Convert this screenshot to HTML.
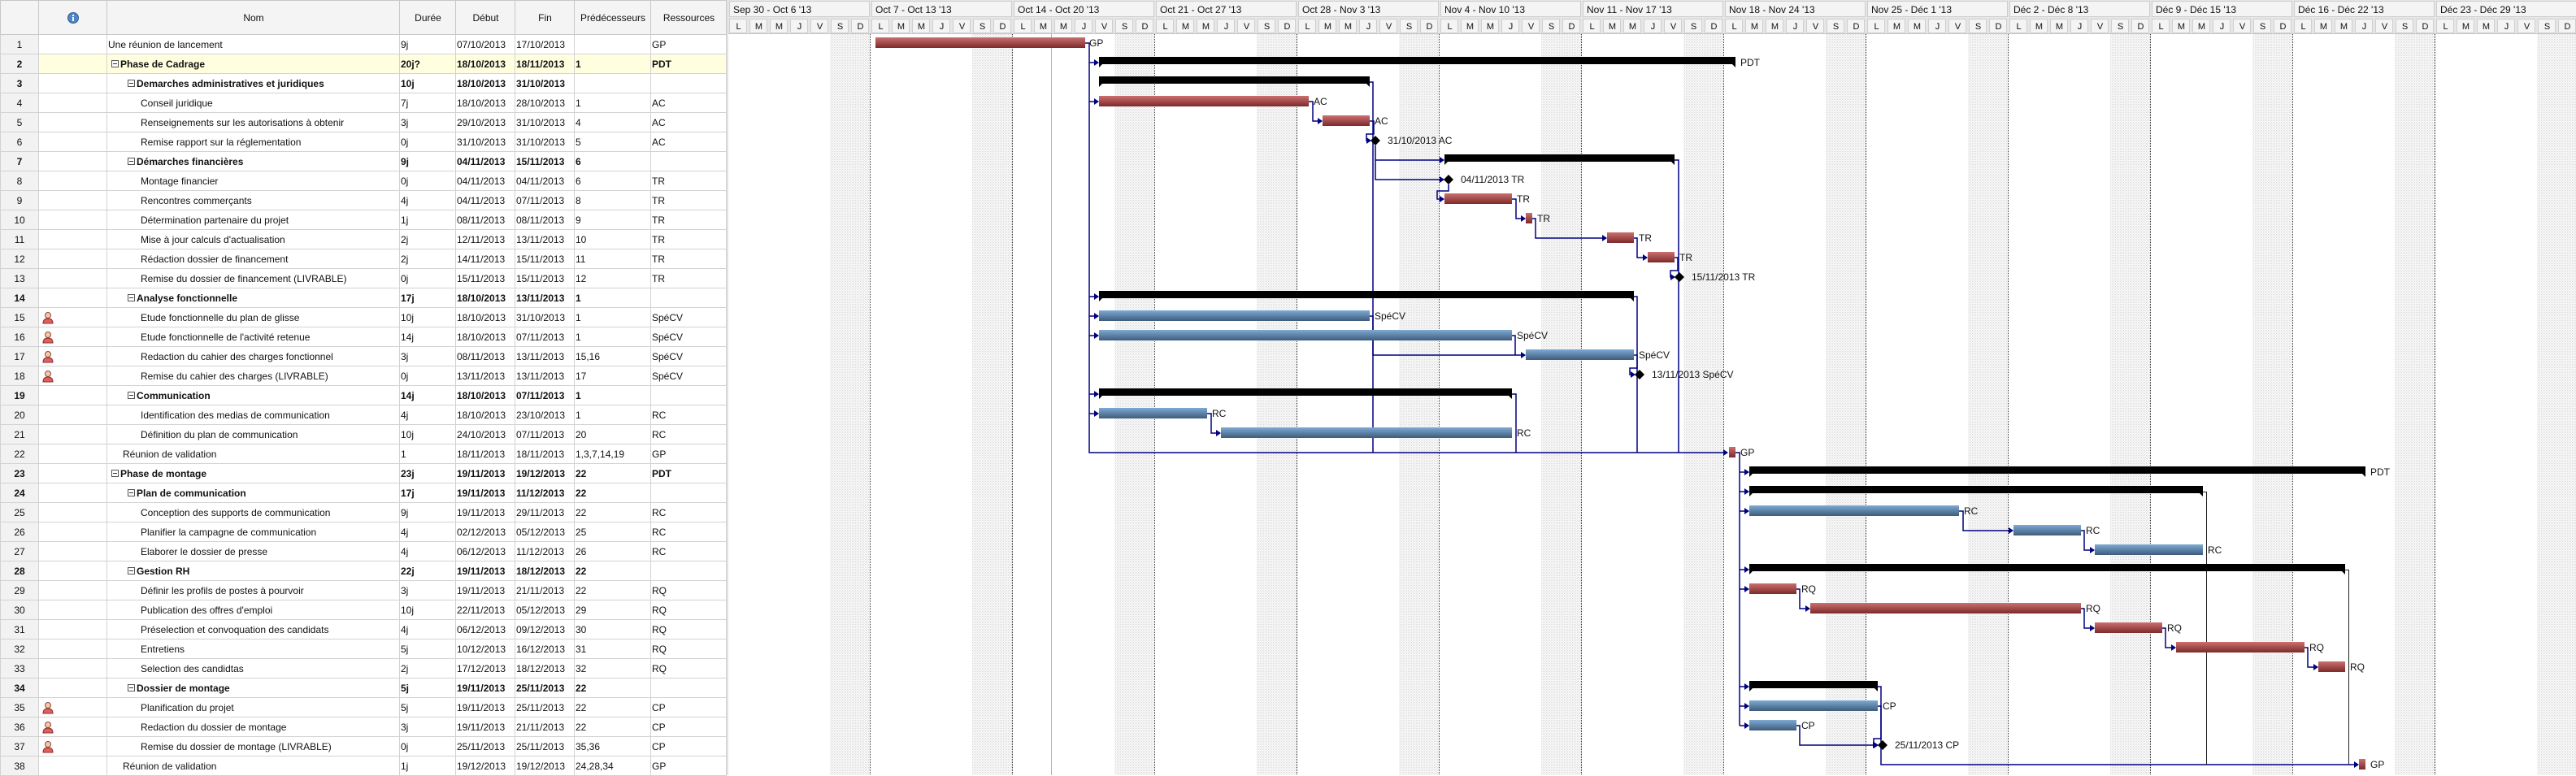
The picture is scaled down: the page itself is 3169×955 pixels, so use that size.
<!DOCTYPE html>
<html><head><meta charset="utf-8">
<style>
html,body{margin:0;padding:0;width:3169px;height:954px;overflow:hidden;background:#fff;font-family:"Liberation Sans",Arial,sans-serif;}
#tbl{position:absolute;left:0;top:0;border-collapse:collapse;table-layout:fixed;width:893px;font-size:12px;color:#111;background:#fff;z-index:2}
#tbl td,#tbl th{border:1px solid #d2d2d2;padding:0 0 0 1px;height:23px;white-space:nowrap;overflow:hidden;text-align:left}
#tbl th{height:41px;background:#f4f4f4;font-weight:normal;text-align:center;border-color:#c8c8c8}
#tbl td.n{background:#f2f2f2;text-align:center;padding:0}
#tbl tr.b td{font-weight:bold}
#tbl tr.sel td{background:#ffffe0}
#tbl tr.sel td.n{background:#f2f2f2}
.bx{display:inline-block;width:7px;height:7px;border:1px solid #555;position:relative;margin-right:2px;vertical-align:0px;background:#fff}
.bx:after{content:"";position:absolute;left:1px;top:3px;width:5px;height:1px;background:#333}
.l1{padding-left:5px!important}.l1t{padding-left:19px!important}.l2{padding-left:25px!important}.l3{padding-left:41px!important}
svg{position:absolute;left:0;top:0}
</style></head><body>
<table id="tbl">
<colgroup><col style="width:47px"><col style="width:84px"><col style="width:360px"><col style="width:69px"><col style="width:73px"><col style="width:73px"><col style="width:94px"><col style="width:93px"></colgroup>
<tr><th></th><th><svg width="14" height="14" style="position:static;vertical-align:middle"><circle cx="7" cy="7" r="6.5" fill="#4f86c6" stroke="#2d5f9e"/><rect x="6" y="6" width="2" height="5" fill="#fff"/><rect x="6" y="3" width="2" height="2" fill="#fff"/></svg></th><th>Nom</th><th>Durée</th><th>Début</th><th>Fin</th><th>Prédécesseurs</th><th>Ressources</th></tr>
<tr><td class="n">1</td><td></td><td>Une réunion de lancement</td><td>9j</td><td>07/10/2013</td><td>17/10/2013</td><td></td><td>GP</td></tr>
<tr class="b sel"><td class="n">2</td><td></td><td class="l1"><span class="bx"></span>Phase de Cadrage</td><td>20j?</td><td>18/10/2013</td><td>18/11/2013</td><td>1</td><td>PDT</td></tr>
<tr class="b"><td class="n">3</td><td></td><td class="l2"><span class="bx"></span>Demarches administratives et juridiques</td><td>10j</td><td>18/10/2013</td><td>31/10/2013</td><td></td><td></td></tr>
<tr><td class="n">4</td><td></td><td class="l3">Conseil juridique</td><td>7j</td><td>18/10/2013</td><td>28/10/2013</td><td>1</td><td>AC</td></tr>
<tr><td class="n">5</td><td></td><td class="l3">Renseignements sur les autorisations à obtenir</td><td>3j</td><td>29/10/2013</td><td>31/10/2013</td><td>4</td><td>AC</td></tr>
<tr><td class="n">6</td><td></td><td class="l3">Remise rapport sur la réglementation</td><td>0j</td><td>31/10/2013</td><td>31/10/2013</td><td>5</td><td>AC</td></tr>
<tr class="b"><td class="n">7</td><td></td><td class="l2"><span class="bx"></span>Démarches financières</td><td>9j</td><td>04/11/2013</td><td>15/11/2013</td><td>6</td><td></td></tr>
<tr><td class="n">8</td><td></td><td class="l3">Montage financier</td><td>0j</td><td>04/11/2013</td><td>04/11/2013</td><td>6</td><td>TR</td></tr>
<tr><td class="n">9</td><td></td><td class="l3">Rencontres commerçants</td><td>4j</td><td>04/11/2013</td><td>07/11/2013</td><td>8</td><td>TR</td></tr>
<tr><td class="n">10</td><td></td><td class="l3">Détermination partenaire du projet</td><td>1j</td><td>08/11/2013</td><td>08/11/2013</td><td>9</td><td>TR</td></tr>
<tr><td class="n">11</td><td></td><td class="l3">Mise à jour calculs d'actualisation</td><td>2j</td><td>12/11/2013</td><td>13/11/2013</td><td>10</td><td>TR</td></tr>
<tr><td class="n">12</td><td></td><td class="l3">Rédaction dossier de financement</td><td>2j</td><td>14/11/2013</td><td>15/11/2013</td><td>11</td><td>TR</td></tr>
<tr><td class="n">13</td><td></td><td class="l3">Remise du dossier de financement (LIVRABLE)</td><td>0j</td><td>15/11/2013</td><td>15/11/2013</td><td>12</td><td>TR</td></tr>
<tr class="b"><td class="n">14</td><td></td><td class="l2"><span class="bx"></span>Analyse fonctionnelle</td><td>17j</td><td>18/10/2013</td><td>13/11/2013</td><td>1</td><td></td></tr>
<tr><td class="n">15</td><td><svg width="14" height="16" style="position:static;vertical-align:middle;margin-left:3px"><circle cx="7" cy="5" r="3.5" fill="#f3c9a8" stroke="#8a4a3a"/><path d="M1 15 Q1 9 7 9 Q13 9 13 15 Z" fill="#e0605c" stroke="#8a3030"/></svg></td><td class="l3">Etude fonctionnelle du plan de glisse</td><td>10j</td><td>18/10/2013</td><td>31/10/2013</td><td>1</td><td>SpéCV</td></tr>
<tr><td class="n">16</td><td><svg width="14" height="16" style="position:static;vertical-align:middle;margin-left:3px"><circle cx="7" cy="5" r="3.5" fill="#f3c9a8" stroke="#8a4a3a"/><path d="M1 15 Q1 9 7 9 Q13 9 13 15 Z" fill="#e0605c" stroke="#8a3030"/></svg></td><td class="l3">Etude fonctionnelle de l'activité retenue</td><td>14j</td><td>18/10/2013</td><td>07/11/2013</td><td>1</td><td>SpéCV</td></tr>
<tr><td class="n">17</td><td><svg width="14" height="16" style="position:static;vertical-align:middle;margin-left:3px"><circle cx="7" cy="5" r="3.5" fill="#f3c9a8" stroke="#8a4a3a"/><path d="M1 15 Q1 9 7 9 Q13 9 13 15 Z" fill="#e0605c" stroke="#8a3030"/></svg></td><td class="l3">Redaction du cahier des charges fonctionnel</td><td>3j</td><td>08/11/2013</td><td>13/11/2013</td><td>15,16</td><td>SpéCV</td></tr>
<tr><td class="n">18</td><td><svg width="14" height="16" style="position:static;vertical-align:middle;margin-left:3px"><circle cx="7" cy="5" r="3.5" fill="#f3c9a8" stroke="#8a4a3a"/><path d="M1 15 Q1 9 7 9 Q13 9 13 15 Z" fill="#e0605c" stroke="#8a3030"/></svg></td><td class="l3">Remise du cahier des charges (LIVRABLE)</td><td>0j</td><td>13/11/2013</td><td>13/11/2013</td><td>17</td><td>SpéCV</td></tr>
<tr class="b"><td class="n">19</td><td></td><td class="l2"><span class="bx"></span>Communication</td><td>14j</td><td>18/10/2013</td><td>07/11/2013</td><td>1</td><td></td></tr>
<tr><td class="n">20</td><td></td><td class="l3">Identification des medias de communication</td><td>4j</td><td>18/10/2013</td><td>23/10/2013</td><td>1</td><td>RC</td></tr>
<tr><td class="n">21</td><td></td><td class="l3">Définition du plan de communication</td><td>10j</td><td>24/10/2013</td><td>07/11/2013</td><td>20</td><td>RC</td></tr>
<tr><td class="n">22</td><td></td><td class="l1t">Réunion de validation</td><td>1</td><td>18/11/2013</td><td>18/11/2013</td><td>1,3,7,14,19</td><td>GP</td></tr>
<tr class="b"><td class="n">23</td><td></td><td class="l1"><span class="bx"></span>Phase de montage</td><td>23j</td><td>19/11/2013</td><td>19/12/2013</td><td>22</td><td>PDT</td></tr>
<tr class="b"><td class="n">24</td><td></td><td class="l2"><span class="bx"></span>Plan de communication</td><td>17j</td><td>19/11/2013</td><td>11/12/2013</td><td>22</td><td></td></tr>
<tr><td class="n">25</td><td></td><td class="l3">Conception des supports de communication</td><td>9j</td><td>19/11/2013</td><td>29/11/2013</td><td>22</td><td>RC</td></tr>
<tr><td class="n">26</td><td></td><td class="l3">Planifier la campagne de communication</td><td>4j</td><td>02/12/2013</td><td>05/12/2013</td><td>25</td><td>RC</td></tr>
<tr><td class="n">27</td><td></td><td class="l3">Elaborer le dossier de presse</td><td>4j</td><td>06/12/2013</td><td>11/12/2013</td><td>26</td><td>RC</td></tr>
<tr class="b"><td class="n">28</td><td></td><td class="l2"><span class="bx"></span>Gestion RH</td><td>22j</td><td>19/11/2013</td><td>18/12/2013</td><td>22</td><td></td></tr>
<tr><td class="n">29</td><td></td><td class="l3">Définir les profils de postes à pourvoir</td><td>3j</td><td>19/11/2013</td><td>21/11/2013</td><td>22</td><td>RQ</td></tr>
<tr><td class="n">30</td><td></td><td class="l3">Publication des offres d'emploi</td><td>10j</td><td>22/11/2013</td><td>05/12/2013</td><td>29</td><td>RQ</td></tr>
<tr><td class="n">31</td><td></td><td class="l3">Préselection et convoquation des candidats</td><td>4j</td><td>06/12/2013</td><td>09/12/2013</td><td>30</td><td>RQ</td></tr>
<tr><td class="n">32</td><td></td><td class="l3">Entretiens</td><td>5j</td><td>10/12/2013</td><td>16/12/2013</td><td>31</td><td>RQ</td></tr>
<tr><td class="n">33</td><td></td><td class="l3">Selection des candidtas</td><td>2j</td><td>17/12/2013</td><td>18/12/2013</td><td>32</td><td>RQ</td></tr>
<tr class="b"><td class="n">34</td><td></td><td class="l2"><span class="bx"></span>Dossier de montage</td><td>5j</td><td>19/11/2013</td><td>25/11/2013</td><td>22</td><td></td></tr>
<tr><td class="n">35</td><td><svg width="14" height="16" style="position:static;vertical-align:middle;margin-left:3px"><circle cx="7" cy="5" r="3.5" fill="#f3c9a8" stroke="#8a4a3a"/><path d="M1 15 Q1 9 7 9 Q13 9 13 15 Z" fill="#e0605c" stroke="#8a3030"/></svg></td><td class="l3">Planification du projet</td><td>5j</td><td>19/11/2013</td><td>25/11/2013</td><td>22</td><td>CP</td></tr>
<tr><td class="n">36</td><td><svg width="14" height="16" style="position:static;vertical-align:middle;margin-left:3px"><circle cx="7" cy="5" r="3.5" fill="#f3c9a8" stroke="#8a4a3a"/><path d="M1 15 Q1 9 7 9 Q13 9 13 15 Z" fill="#e0605c" stroke="#8a3030"/></svg></td><td class="l3">Redaction du dossier de montage</td><td>3j</td><td>19/11/2013</td><td>21/11/2013</td><td>22</td><td>CP</td></tr>
<tr><td class="n">37</td><td><svg width="14" height="16" style="position:static;vertical-align:middle;margin-left:3px"><circle cx="7" cy="5" r="3.5" fill="#f3c9a8" stroke="#8a4a3a"/><path d="M1 15 Q1 9 7 9 Q13 9 13 15 Z" fill="#e0605c" stroke="#8a3030"/></svg></td><td class="l3">Remise du dossier de montage (LIVRABLE)</td><td>0j</td><td>25/11/2013</td><td>25/11/2013</td><td>35,36</td><td>CP</td></tr>
<tr><td class="n">38</td><td></td><td class="l1t">Réunion de validation</td><td>1j</td><td>19/12/2013</td><td>19/12/2013</td><td>24,28,34</td><td>GP</td></tr>
</table>

<svg width="3169" height="954" viewBox="0 0 3169 954" font-family="Liberation Sans, Arial, sans-serif" font-size="12">
<defs>
<pattern id="dots" width="2" height="2" patternUnits="userSpaceOnUse"><rect width="2" height="2" fill="#fff"/><rect width="1" height="1" fill="#d6d6d6"/><rect x="1" y="1" width="1" height="1" fill="#ececec"/></pattern>
<pattern id="dayc" x="896" y="22" width="25" height="20" patternUnits="userSpaceOnUse"><rect width="25" height="20" fill="#e6e6e6"/><rect x="1.5" y="1.5" width="21" height="17" fill="#f4f4f4" stroke="#cfcfcf"/></pattern>
<linearGradient id="red" x1="0" y1="0" x2="0" y2="1"><stop offset="0" stop-color="#cc7070"/><stop offset="1" stop-color="#7c2a2a"/></linearGradient>
<linearGradient id="blue" x1="0" y1="0" x2="0" y2="1"><stop offset="0" stop-color="#7eaad4"/><stop offset="1" stop-color="#3e5c7b"/></linearGradient>
<marker id="ar" markerWidth="6" markerHeight="8" refX="5" refY="4" orient="auto" markerUnits="userSpaceOnUse"><path d="M0 0 L6 4 L0 8 Z" fill="#000080"/></marker>
</defs>
<rect x="893" y="0" width="3" height="954" fill="#e2e2e2"/>
<g fill="url(#dots)">
<rect x="1021" y="42" width="50" height="912"/><rect x="1196" y="42" width="50" height="912"/><rect x="1371" y="42" width="50" height="912"/><rect x="1546" y="42" width="50" height="912"/><rect x="1721" y="42" width="50" height="912"/><rect x="1896" y="42" width="50" height="912"/><rect x="2071" y="42" width="50" height="912"/><rect x="2246" y="42" width="50" height="912"/><rect x="2421" y="42" width="50" height="912"/><rect x="2596" y="42" width="50" height="912"/><rect x="2771" y="42" width="50" height="912"/><rect x="2946" y="42" width="50" height="912"/><rect x="3121" y="42" width="50" height="912"/>
</g>
<g stroke="#333" stroke-width="1" stroke-dasharray="1,1">
<line x1="1070.5" y1="42" x2="1070.5" y2="954"/><line x1="1245.5" y1="42" x2="1245.5" y2="954"/><line x1="1420.5" y1="42" x2="1420.5" y2="954"/><line x1="1595.5" y1="42" x2="1595.5" y2="954"/><line x1="1770.5" y1="42" x2="1770.5" y2="954"/><line x1="1945.5" y1="42" x2="1945.5" y2="954"/><line x1="2120.5" y1="42" x2="2120.5" y2="954"/><line x1="2295.5" y1="42" x2="2295.5" y2="954"/><line x1="2470.5" y1="42" x2="2470.5" y2="954"/><line x1="2645.5" y1="42" x2="2645.5" y2="954"/><line x1="2820.5" y1="42" x2="2820.5" y2="954"/><line x1="2995.5" y1="42" x2="2995.5" y2="954"/>
</g>
<line x1="1293.5" y1="42" x2="1293.5" y2="954" stroke="#8fbde6" stroke-width="1"/>
<rect x="896" y="0" width="2275" height="22" fill="#e6e6e6"/>
<rect x="896" y="22" width="2275" height="20" fill="url(#dayc)"/>
<g fill="#f4f4f4" stroke="#cdcdcd">
<rect x="897.5" y="1.5" width="172" height="19"/><rect x="1072.5" y="1.5" width="172" height="19"/><rect x="1247.5" y="1.5" width="172" height="19"/><rect x="1422.5" y="1.5" width="172" height="19"/><rect x="1597.5" y="1.5" width="172" height="19"/><rect x="1772.5" y="1.5" width="172" height="19"/><rect x="1947.5" y="1.5" width="172" height="19"/><rect x="2122.5" y="1.5" width="172" height="19"/><rect x="2297.5" y="1.5" width="172" height="19"/><rect x="2472.5" y="1.5" width="172" height="19"/><rect x="2647.5" y="1.5" width="172" height="19"/><rect x="2822.5" y="1.5" width="172" height="19"/><rect x="2997.5" y="1.5" width="172" height="19"/>
</g>
<g fill="#111">
<text x="902" y="16">Sep 30 - Oct 6 '13</text><text x="1077" y="16">Oct 7 - Oct 13 '13</text><text x="1252" y="16">Oct 14 - Oct 20 '13</text><text x="1427" y="16">Oct 21 - Oct 27 '13</text><text x="1602" y="16">Oct 28 - Nov 3 '13</text><text x="1777" y="16">Nov 4 - Nov 10 '13</text><text x="1952" y="16">Nov 11 - Nov 17 '13</text><text x="2127" y="16">Nov 18 - Nov 24 '13</text><text x="2302" y="16">Nov 25 - Déc 1 '13</text><text x="2477" y="16">Déc 2 - Déc 8 '13</text><text x="2652" y="16">Déc 9 - Déc 15 '13</text><text x="2827" y="16">Déc 16 - Déc 22 '13</text><text x="3002" y="16">Déc 23 - Déc 29 '13</text>
</g>
<g fill="#111" text-anchor="middle" font-size="11">
<text transform="translate(896,36)" x="12.5 37.5 62.5 87.5 112.5 137.5 162.5">LMMJVSD</text>
<text transform="translate(1071,36)" x="12.5 37.5 62.5 87.5 112.5 137.5 162.5">LMMJVSD</text>
<text transform="translate(1246,36)" x="12.5 37.5 62.5 87.5 112.5 137.5 162.5">LMMJVSD</text>
<text transform="translate(1421,36)" x="12.5 37.5 62.5 87.5 112.5 137.5 162.5">LMMJVSD</text>
<text transform="translate(1596,36)" x="12.5 37.5 62.5 87.5 112.5 137.5 162.5">LMMJVSD</text>
<text transform="translate(1771,36)" x="12.5 37.5 62.5 87.5 112.5 137.5 162.5">LMMJVSD</text>
<text transform="translate(1946,36)" x="12.5 37.5 62.5 87.5 112.5 137.5 162.5">LMMJVSD</text>
<text transform="translate(2121,36)" x="12.5 37.5 62.5 87.5 112.5 137.5 162.5">LMMJVSD</text>
<text transform="translate(2296,36)" x="12.5 37.5 62.5 87.5 112.5 137.5 162.5">LMMJVSD</text>
<text transform="translate(2471,36)" x="12.5 37.5 62.5 87.5 112.5 137.5 162.5">LMMJVSD</text>
<text transform="translate(2646,36)" x="12.5 37.5 62.5 87.5 112.5 137.5 162.5">LMMJVSD</text>
<text transform="translate(2821,36)" x="12.5 37.5 62.5 87.5 112.5 137.5 162.5">LMMJVSD</text>
<text transform="translate(2996,36)" x="12.5 37.5 62.5 87.5 112.5 137.5 162.5">LMMJVSD</text>
</g>
<rect x="896" y="41" width="2275" height="1" fill="#c8c8c8"/>

<g fill="none" stroke="#000080" stroke-width="1.5">
<path d="M1335 53 H1340 V557 H2125" marker-end="url(#ar)"/>
<path d="M1340 77 H1351" marker-end="url(#ar)"/><path d="M1340 125 H1351" marker-end="url(#ar)"/><path d="M1340 365 H1351" marker-end="url(#ar)"/><path d="M1340 389 H1351" marker-end="url(#ar)"/><path d="M1340 413 H1351" marker-end="url(#ar)"/><path d="M1340 485 H1351" marker-end="url(#ar)"/><path d="M1340 509 H1351" marker-end="url(#ar)"/>
<path d="M1610 125 H1615 V149 H1626" marker-end="url(#ar)"/>
<path d="M1685 149 H1690 V165 H1681 V173 H1686" marker-end="url(#ar)"/>
<path d="M1685 101 H1689 V557"/>
<path d="M1692 179 V221 H1776" marker-end="url(#ar)"/>
<path d="M1692 197 H1776" marker-end="url(#ar)"/>
<path d="M1782 227 V235 H1768 V245 H1776" marker-end="url(#ar)"/>
<path d="M1860 245 H1865 V269 H1876" marker-end="url(#ar)"/>
<path d="M1885 269 H1889 V293 H1976" marker-end="url(#ar)"/>
<path d="M2010 293 H2014 V317 H2026" marker-end="url(#ar)"/>
<path d="M2060 317 H2064 V333 H2055 V341 H2060" marker-end="url(#ar)"/>
<path d="M2060 197 H2065 V557"/>
<path d="M2010 365 H2014 V557"/>
<path d="M1685 389 H1689 V437 H1876" marker-end="url(#ar)"/>
<path d="M1860 413 H1864 V437"/>
<path d="M2010 437 H2014 V453 H2005 V461 H2011" marker-end="url(#ar)"/>
<path d="M1860 485 H1865 V557"/>
<path d="M1485 509 H1490 V533 H1501" marker-end="url(#ar)"/>
<path d="M2135 557 H2140 V893"/>
<path d="M2140 581 H2151" marker-end="url(#ar)"/><path d="M2140 605 H2151" marker-end="url(#ar)"/><path d="M2140 629 H2151" marker-end="url(#ar)"/><path d="M2140 701 H2151" marker-end="url(#ar)"/><path d="M2140 725 H2151" marker-end="url(#ar)"/><path d="M2140 845 H2151" marker-end="url(#ar)"/><path d="M2140 869 H2151" marker-end="url(#ar)"/><path d="M2140 893 H2151" marker-end="url(#ar)"/>
<path d="M2410 629 H2415 V653 H2476" marker-end="url(#ar)"/>
<path d="M2560 653 H2564 V677 H2576" marker-end="url(#ar)"/>
<path d="M2210 725 H2214 V749 H2226" marker-end="url(#ar)"/>
<path d="M2560 749 H2564 V773 H2576" marker-end="url(#ar)"/>
<path d="M2660 773 H2664 V797 H2676" marker-end="url(#ar)"/>
<path d="M2835 797 H2839 V821 H2851" marker-end="url(#ar)"/>
<path d="M2310 869 H2314 V909 H2305 V917 H2310" marker-end="url(#ar)"/>
<path d="M2210 893 H2214 V917 H2309" marker-end="url(#ar)"/>
<path d="M2310 845 H2314 V941 H2901" marker-end="url(#ar)"/>
</g>
<g fill="none" stroke="#222" stroke-width="1">
<path d="M2710 605.5 H2714.5 V941"/><path d="M2885 701.5 H2889.5 V941"/>
</g>

<g fill="#000">
<polygon points="1352,70 2135,70 2135,83 2131,79 1356,79 1352,83"/>
<polygon points="1352,94 1685,94 1685,107 1681,103 1356,103 1352,107"/>
<polygon points="1777,190 2060,190 2060,203 2056,199 1781,199 1777,203"/>
<polygon points="1352,358 2010,358 2010,371 2006,367 1356,367 1352,371"/>
<polygon points="1352,478 1860,478 1860,491 1856,487 1356,487 1352,491"/>
<polygon points="2152,574 2910,574 2910,587 2906,583 2156,583 2152,587"/>
<polygon points="2152,598 2710,598 2710,611 2706,607 2156,607 2152,611"/>
<polygon points="2152,694 2885,694 2885,707 2881,703 2156,703 2152,707"/>
<polygon points="2152,838 2310,838 2310,851 2306,847 2156,847 2152,851"/>
</g>
<g fill="url(#red)">
<rect x="1077" y="46" width="258" height="13"/>
<rect x="1352" y="118" width="258" height="13"/>
<rect x="1627" y="142" width="58" height="13"/>
<rect x="1777" y="238" width="83" height="13"/>
<rect x="1877" y="262" width="8" height="13"/>
<rect x="1977" y="286" width="33" height="13"/>
<rect x="2027" y="310" width="33" height="13"/>
<rect x="2127" y="550" width="8" height="13"/>
<rect x="2152" y="718" width="58" height="13"/>
<rect x="2227" y="742" width="333" height="13"/>
<rect x="2577" y="766" width="83" height="13"/>
<rect x="2677" y="790" width="158" height="13"/>
<rect x="2852" y="814" width="33" height="13"/>
<rect x="2902" y="934" width="8" height="13"/>
</g>
<g fill="url(#blue)">
<rect x="1352" y="382" width="333" height="13"/>
<rect x="1352" y="406" width="508" height="13"/>
<rect x="1877" y="430" width="133" height="13"/>
<rect x="1352" y="502" width="133" height="13"/>
<rect x="1502" y="526" width="358" height="13"/>
<rect x="2152" y="622" width="258" height="13"/>
<rect x="2477" y="646" width="83" height="13"/>
<rect x="2577" y="670" width="133" height="13"/>
<rect x="2152" y="862" width="158" height="13"/>
<rect x="2152" y="886" width="58" height="13"/>
</g>
<g fill="#000">
<polygon points="1692,167 1698,173 1692,179 1686,173"/>
<polygon points="1782,215 1788,221 1782,227 1776,221"/>
<polygon points="2066,335 2072,341 2066,347 2060,341"/>
<polygon points="2017,455 2023,461 2017,467 2011,461"/>
<polygon points="2316,911 2322,917 2316,923 2310,917"/>
</g>
<g fill="#111">
<text x="1340" y="57">GP</text>
<text x="2141" y="81">PDT</text>
<text x="1616" y="129">AC</text>
<text x="1691" y="153">AC</text>
<text x="1707" y="177">31/10/2013 AC</text>
<text x="1797" y="225">04/11/2013 TR</text>
<text x="1866" y="249">TR</text>
<text x="1891" y="273">TR</text>
<text x="2016" y="297">TR</text>
<text x="2066" y="321">TR</text>
<text x="2081" y="345">15/11/2013 TR</text>
<text x="1691" y="393">SpéCV</text>
<text x="1866" y="417">SpéCV</text>
<text x="2016" y="441">SpéCV</text>
<text x="2032" y="465">13/11/2013 SpéCV</text>
<text x="1491" y="513">RC</text>
<text x="1866" y="537">RC</text>
<text x="2141" y="561">GP</text>
<text x="2916" y="585">PDT</text>
<text x="2416" y="633">RC</text>
<text x="2566" y="657">RC</text>
<text x="2716" y="681">RC</text>
<text x="2216" y="729">RQ</text>
<text x="2566" y="753">RQ</text>
<text x="2666" y="777">RQ</text>
<text x="2841" y="801">RQ</text>
<text x="2891" y="825">RQ</text>
<text x="2316" y="873">CP</text>
<text x="2216" y="897">CP</text>
<text x="2331" y="921">25/11/2013 CP</text>
<text x="2916" y="945">GP</text>
</g>
</svg>
</body></html>
